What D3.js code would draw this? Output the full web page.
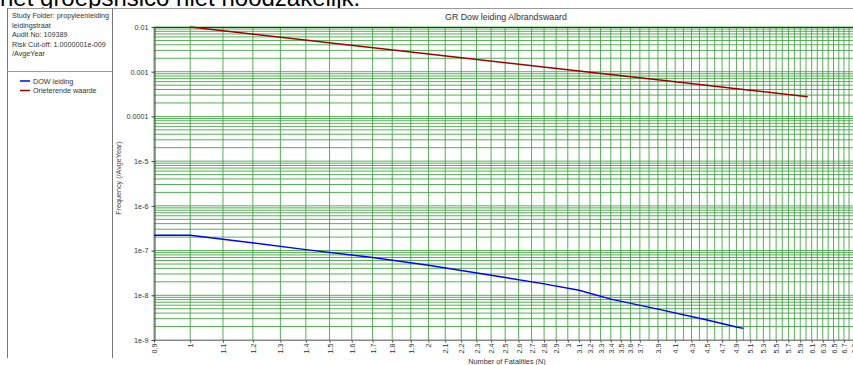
<!DOCTYPE html>
<html>
<head>
<meta charset="utf-8">
<script src="https://cdn.jsdelivr.net/npm/d3@7"></script>
<style>
  body { margin: 0; background: #fff; }
  svg { display: block; font-family: "Liberation Sans", Arial, sans-serif; }
</style>
</head>
<body>
<div id="fn-chart"></div>
<script>
const headerText = "het groepsrisico niet noodzakelijk.";
const chartTitle = "GR Dow leiding Albrandswaard";
const infoLines = ["Study Folder: propyleenleiding", "leidingstraat", "Audit No: 109389",
                   "Risk Cut-off: 1.0000001e-009", "/AvgeYear"];
const seriesNames = ["DOW leiding", "Orieterende waarde"];

const yTickValues = [0.01, 0.001, 0.0001, 1e-5, 1e-6, 1e-7, 1e-8, 1e-9];
const yTickLabels = ["0.01", "0.001", "0.0001", "1e-5", "1e-6", "1e-7", "1e-8", "1e-9"];
const xTickLabels = ["0.9", "1", "1.1", "1.2", "1.3", "1.4", "1.5", "1.6", "1.7", "1.8", "1.9", "2",
                     "2.1", "2.2", "2.3", "2.4", "2.5", "2.6", "2.7", "2.8", "2.9", "3", "3.1", "3.2",
                     "3.3", "3.4", "3.5", "3.6", "3.7", "3.9", "4.1", "4.3", "4.5", "4.7", "4.9",
                     "5.1", "5.3", "5.5", "5.7", "5.9", "6.1", "6.3", "6.5", "6.7", "6.9"];

// DOW leiding (blue)
const dowN    = [0.9, 1, 1.1, 1.4, 1.7, 2.0, 2.4, 2.8, 3.1, 3.4, 3.9, 4.5, 4.9, 5.0];
const dowFreq = [2.2e-7, 2.2e-7, 1.8e-7, 1.05e-7, 7.0e-8, 4.7e-8, 2.8e-8, 1.8e-8,
                 1.3e-8, 8.2e-9, 4.9e-9, 2.8e-9, 1.95e-9, 1.82e-9];

// Orieterende waarde (red)
const guideN    = [1, 2, 3, 4, 5, 6.03];
const guideFreq = [0.01, 0.0025, 0.00111, 0.000625, 0.0004, 0.000275];

const width = 853, height = 365;

const svg = d3.select("#fn-chart")
    .append("svg")
    .attr("width", width)
    .attr("height", height);

// cut-off document line above the chart
svg.append("text")
    .attr("x", 0)
    .attr("y", 6)
    .attr("font-size", 24)
    .attr("fill", "#000")
    .text(headerText);

svg.append("rect")
    .attr("x", 0).attr("y", 8)
    .attr("width", width).attr("height", height - 8)
    .attr("fill", "#fff");

// frame lines
svg.append("line")
    .attr("x1", 7).attr("x2", width).attr("y1", 8.5).attr("y2", 8.5)
    .attr("stroke", "#999");
svg.append("line")
    .attr("x1", 7.5).attr("x2", 7.5).attr("y1", 8).attr("y2", 358)
    .attr("stroke", "#777");
svg.append("line")
    .attr("x1", 112.5).attr("x2", 112.5).attr("y1", 8).attr("y2", 358)
    .attr("stroke", "#777");
svg.append("line")
    .attr("x1", 7).attr("x2", 112).attr("y1", 71.5).attr("y2", 71.5)
    .attr("stroke", "#999");

// study info
svg.append("g")
    .attr("font-size", 7.2)
    .attr("fill", "#333")
  .selectAll("text")
  .data(infoLines)
  .join("text")
    .attr("x", 12)
    .attr("y", (d, i) => 18 + i * 9.5)
    .text(d => d);

// legend
const seriesColor = d3.scaleOrdinal().domain(seriesNames).range(["#0000ff", "#a00000"]);

const legend = svg.append("g")
    .selectAll("g")
    .data(seriesNames)
    .join("g")
      .attr("transform", (d, i) => `translate(0, ${81 + i * 9.5})`);

legend.append("line")
    .attr("x1", 20).attr("x2", 30)
    .attr("stroke", d => seriesColor(d))
    .attr("stroke-width", 1.5);

legend.append("text")
    .attr("x", 33)
    .attr("dy", "0.35em")
    .attr("font-size", 7.2)
    .attr("fill", "#333")
    .text(d => d);

// scales
const x = d3.scaleLog()
    .domain([0.9, 7])
    .range([154, 859]);

const y = d3.scaleLog()
    .domain([1e-9, 0.01])
    .range([340, 27]);

// grid
const vGrid = d3.range(9, 71).map(d => d / 10);
const hGrid = [];
for (let k = -9; k < -2; k++) {
    for (let m = 1; m < 10; m++) hGrid.push(m * Math.pow(10, k));
}
hGrid.push(0.01);

const grid = svg.append("g")
    .attr("stroke", "#3aa03a")
    .attr("stroke-opacity", 0.85)
    .attr("stroke-width", 1);

grid.selectAll(".v")
  .data(vGrid)
  .join("line")
    .attr("class", "v")
    .attr("x1", d => x(d)).attr("x2", d => x(d))
    .attr("y1", 27).attr("y2", 340);

grid.selectAll(".h")
  .data(hGrid)
  .join("line")
    .attr("class", "h")
    .attr("x1", 154).attr("x2", width)
    .attr("y1", d => y(d)).attr("y2", d => y(d));

// plot border
svg.append("line")
    .attr("x1", 154).attr("x2", width).attr("y1", 27.5).attr("y2", 27.5)
    .attr("stroke", "#333");
svg.append("line")
    .attr("x1", 154).attr("x2", width).attr("y1", 340.5).attr("y2", 340.5)
    .attr("stroke", "#888");

// axes
const yAxis = svg.append("g")
    .attr("transform", "translate(154.5, 0)")
    .call(d3.axisLeft(y)
        .tickValues(yTickValues)
        .tickFormat((d, i) => yTickLabels[i])
        .tickSize(3)
        .tickSizeOuter(0));

yAxis.select(".domain").attr("stroke", "#444");
yAxis.selectAll(".tick line").attr("stroke", "#444");
yAxis.selectAll("text")
    .attr("font-size", 7.2)
    .attr("font-family", "Liberation Sans, Arial, sans-serif")
    .attr("fill", "#333");

const xAxis = svg.append("g")
    .attr("transform", "translate(0, 340.5)")
    .call(d3.axisBottom(x)
        .tickValues(xTickLabels.map(Number))
        .tickFormat((d, i) => xTickLabels[i])
        .tickSize(2)
        .tickSizeOuter(0));

xAxis.select(".domain").remove();
xAxis.selectAll(".tick line").attr("stroke", "#444");
xAxis.selectAll("text")
    .attr("font-size", 7.2)
    .attr("font-family", "Liberation Sans, Arial, sans-serif")
    .attr("fill", "#333")
    .attr("text-anchor", "end")
    .attr("transform", "rotate(-90)")
    .attr("x", -3)
    .attr("y", 0)
    .attr("dy", "0.35em");

// titles
svg.append("text")
    .attr("x", 506)
    .attr("y", 20)
    .attr("text-anchor", "middle")
    .attr("font-size", 8.8)
    .attr("fill", "#333")
    .text(chartTitle);

svg.append("text")
    .attr("x", 507)
    .attr("y", 364)
    .attr("text-anchor", "middle")
    .attr("font-size", 7.3)
    .attr("fill", "#333")
    .text("Number of Fatalities (N)");

svg.append("text")
    .attr("transform", "translate(121, 178) rotate(-90)")
    .attr("text-anchor", "middle")
    .attr("font-size", 7.2)
    .attr("fill", "#444")
    .text("Frequency (/AvgeYear)");

// series
const line = d3.line()
    .x(d => x(d[0]))
    .y(d => y(d[1]));

svg.append("path")
    .datum(d3.zip(dowN, dowFreq))
    .attr("fill", "none")
    .attr("stroke", seriesColor(seriesNames[0]))
    .attr("stroke-width", 1.5)
    .attr("d", line);

svg.append("path")
    .datum(d3.zip(guideN, guideFreq))
    .attr("fill", "none")
    .attr("stroke", seriesColor(seriesNames[1]))
    .attr("stroke-width", 1.5)
    .attr("d", line);
</script>
</body>
</html>
